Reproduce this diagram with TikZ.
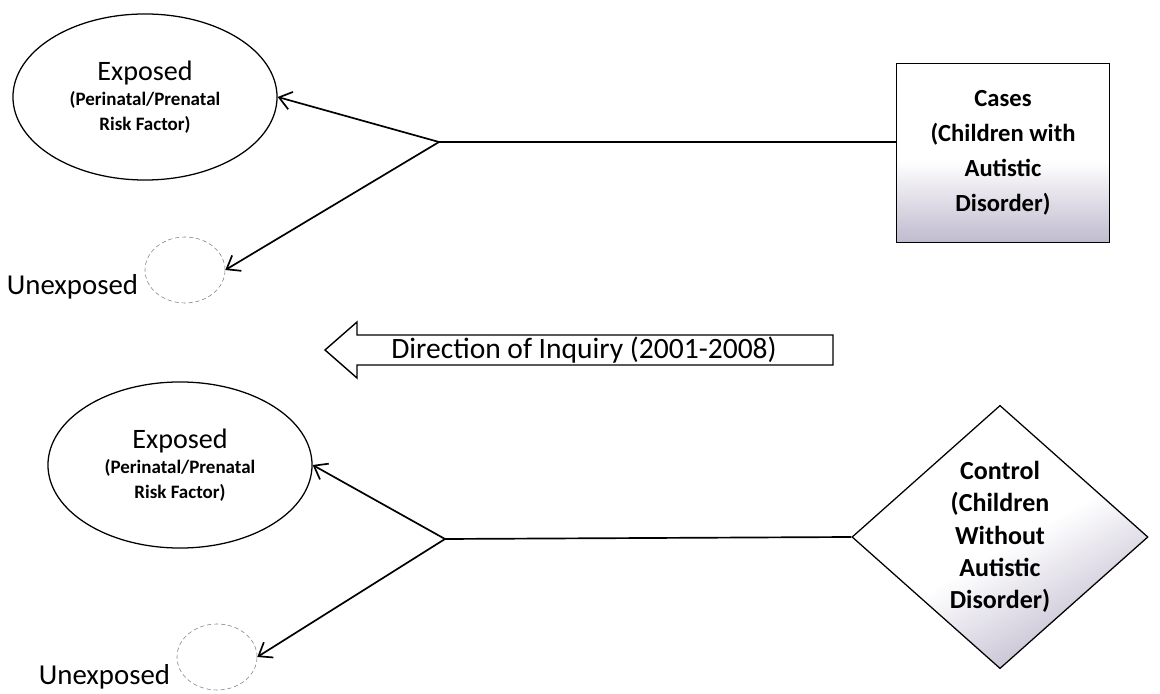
\documentclass[tikz,border=0pt]{standalone}
\usepackage{fontspec}
\setmainfont{Carlito}
\usetikzlibrary{shapes.geometric,arrows.meta}

\definecolor{shadegray}{RGB}{192,186,206}
\pgfdeclareverticalshading{lowgray}{100bp}{color(0bp)=(shadegray); color(25bp)=(shadegray);
    color(48bp)=(white); color(100bp)=(white)}

\tikzset{
    exposed/.style={ellipse, draw, line width=0.9pt, minimum width=6.6cm, minimum height=4.15cm, align=center,
        inner sep=0pt, font=\fontsize{13.5}{17.8}\selectfont\bfseries},
    unexposed/.style={ellipse, draw=gray, densely dashed, thin, minimum width=2cm, minimum height=1.65cm},
    branch/.style={line width=1.2pt, -{Straight Barb[length=3mm,width=4.5mm]}},
    bigtxt/.style={font=\fontsize{20.5}{24}\selectfont},
}

\begin{document}
\begin{tikzpicture}[x=0.025cm, y=-0.025cm]
        \useasboundingbox (0,0) rectangle (1160,694);

        % top half: cases
        \node[exposed] (exp1) at (145,97) {{\fontsize{20}{24}\selectfont\mdseries Exposed}\\
            (Perinatal/Prenatal\\ Risk Factor)};
        \node[unexposed] (unexp1) at (185,270) {};
        \node[bigtxt, anchor=base east] (ulab1) at (143,295) {Unexposed};
        \node[draw, line width=0.9pt, minimum width=5.33cm, minimum height=4.48cm, align=center,
              shading=lowgray, font=\fontsize{17.5}{25}\selectfont\bfseries] (cases) at (1003,153)
            {Cases\\ (Children with\\ Autistic\\ Disorder)};
        \coordinate (b1) at (439,142);

        \draw[line width=1.2pt] (b1) -- (b1 -| cases.west);
        \draw[branch] (b1) -- (exp1.east);
        \draw[branch] (b1) -- (unexp1.east);

        % direction of inquiry
        \draw[line width=1pt, line join=miter] (325,350) -- (357,322) -- (357,335) -- (833,335)
            -- (833,365) -- (357,365) -- (357,378) -- cycle;
        \node[font=\fontsize{21}{24}\selectfont] (dir) at (584,350) {Direction of Inquiry (2001-2008)};

        % bottom half: control
        \node[exposed] (exp2) at (180,465) {{\fontsize{20}{24}\selectfont\mdseries Exposed}\\
            (Perinatal/Prenatal\\ Risk Factor)};
        \node[unexposed] (unexp2) at (217,657) {};
        \node[bigtxt, anchor=base east] (ulab2) at (175,685) {Unexposed};
        \node[diamond, draw, line width=0.9pt, minimum width=7.4cm, minimum height=6.58cm,
              aspect=1.125, inner sep=0pt, align=center, shading=lowgray, shading angle=30,
              font=\fontsize{18.5}{23}\selectfont\bfseries] (control) at (1000,537)
            {Control\\ (Children\\ Without\\ Autistic\\ Disorder)};
        \coordinate (b2) at (445,539);

        \draw[line width=1.2pt] (b2) -- (control.west);
        \draw[branch] (b2) -- (exp2.east);
        \draw[branch] (b2) -- (unexp2.east);

    \end{tikzpicture}
\end{document}
